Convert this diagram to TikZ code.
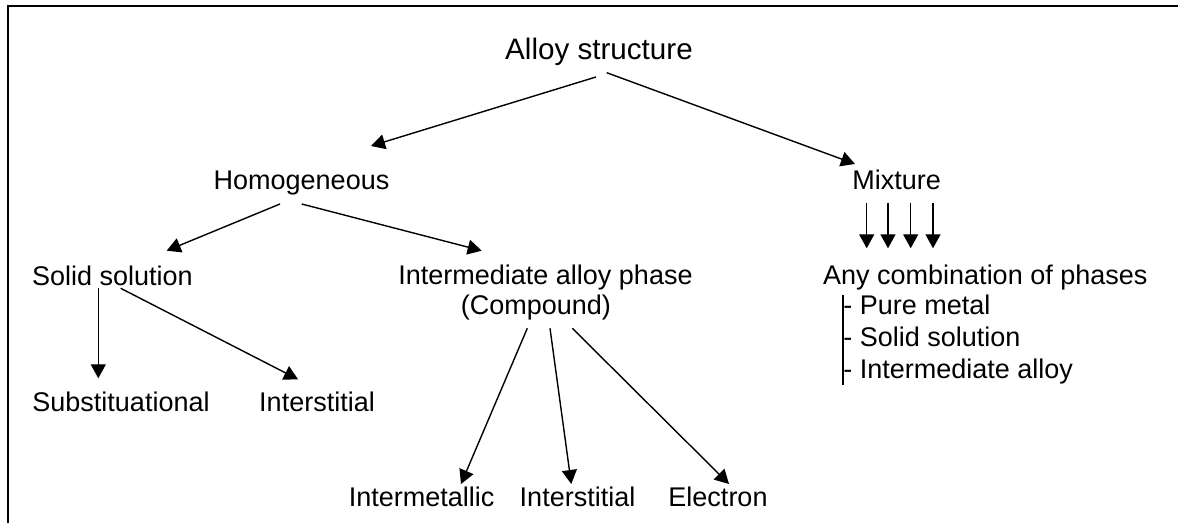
\documentclass[tikz,border=0pt]{standalone}
\usepackage{fontspec}
\setmainfont{Liberation Sans}
\usetikzlibrary{arrows.meta}

\begin{document}
\begin{tikzpicture}[x=0.5pt, y=-0.5pt,
        txt/.style={inner sep=0pt, anchor=base, font=\fontsize{13.5}{16}\selectfont},
        ttl/.style={txt, font=\fontsize{14.8}{18}\selectfont},
        itm/.style={txt, anchor=base west},
        arr/.style={draw, line width=0.7pt, -{Triangle[length=7pt, width=7.5pt]}}]
        \useasboundingbox (0,0) rectangle (1178,523);
        % frame
        \path[draw, line width=1pt](7.5,523)--(7.5,6)--(1178,6);
        % labels
        \node[ttl](alloy)at(599,59.5){Alloy structure};
        \node[txt](homog)at(301.5,190){Homogeneous};
        \node[txt](mix)at(896.7,190){Mixture};
        \node[txt](solid)at(112.5,286){Solid solution};
        \node[txt](inter)at(545.5,284.5){Intermediate alloy phase};
        \node[txt](comp)at(535.8,315){(Compound)};
        \node[txt](subst)at(121,411.7){Substituational};
        \node[txt](intsl)at(317,411.7){Interstitial};
        \node[txt](metal)at(421.7,506.7){Intermetallic};
        \node[txt](intst)at(577.5,506.7){Interstitial};
        \node[txt](elec)at(718,506.7){Electron};
        \node[txt](any)at(985.3,285){Any combination of phases};
        \node[itm](pure)at(843,315){- Pure metal};
        \node[itm](ssol)at(843,347){- Solid solution};
        \node[itm](ialloy)at(843,379){- Intermediate alloy};
        % arrows
        \path[arr]([shift={(-3,17.5)}]alloy.base)to([shift={(69.5,-44)}]homog.base);
        \path[arr]([shift={(7.7,13.2)}]alloy.base)to([shift={(-41.7,-26)}]mix.base);
        \path[arr]([shift={(-21.5,14)}]homog.base)to([shift={(54.2,-35.3)}]solid.base);
        \path[arr]([shift={(0.2,14)}]homog.base)to([shift={(-63.8,-33.8)}]inter.base);
        \path[arr]([shift={(-14.2,2.3)}]solid.base)to([shift={(-22.7,-33.4)}]subst.base);
        \path[arr]([shift={(8.2,2.3)}]solid.base)to([shift={(-19,-32.4)}]intsl.base);
        \path[arr]([shift={(-8.5,13.3)}]comp.base)to([shift={(39.3,-22.7)}]metal.base);
        \path[arr]([shift={(14.2,13.3)}]comp.base)to([shift={(-6.2,-22.7)}]intst.base);
        \path[arr]([shift={(36.5,13.3)}]comp.base)to([shift={(11,-22.7)}]elec.base);
        \foreach \dx in {-30,-8.7,14,36.3}
        {
            \path[arr]([shift={(\dx,13)}]mix.base)to([shift={(\dx,58.3)}]mix.base);
        }
        % list bar
        \path[draw, line width=0.7pt]([shift={(0,-20)}]pure.base west)to([shift={(0,6)}]ialloy.base west);
    \end{tikzpicture}
\end{document}
